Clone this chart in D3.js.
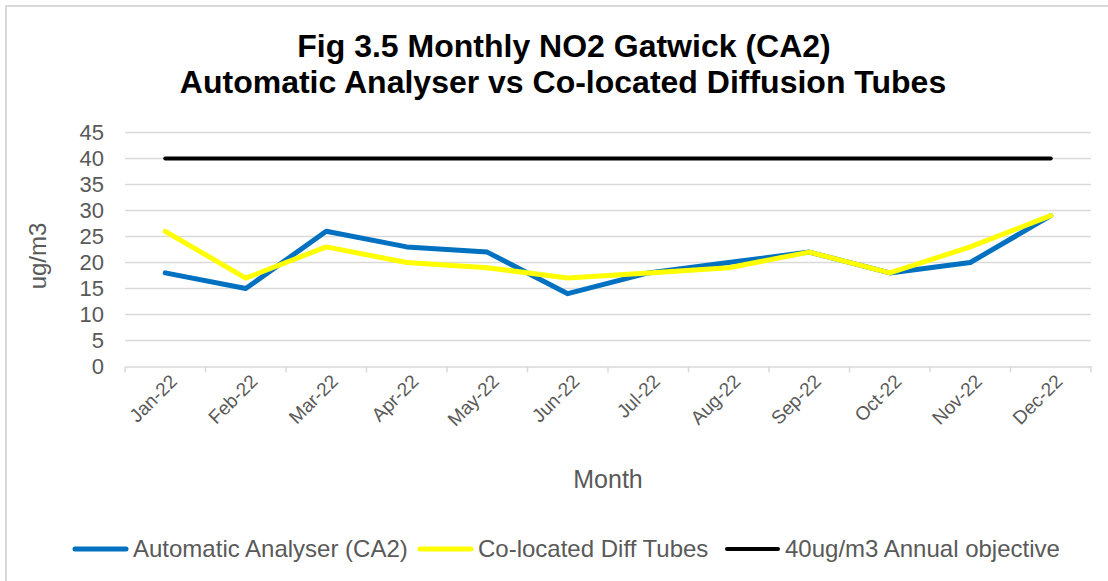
<!DOCTYPE html>
<html>
<head>
<meta charset="utf-8">
<script src="https://cdn.jsdelivr.net/npm/d3@7"></script>
<style>
  html, body { margin: 0; padding: 0; background: #fff; }
  svg { display: block; font-family: "Liberation Sans", Arial, sans-serif; }
</style>
</head>
<body>
<svg id="chart" width="1108" height="581"></svg>
<script>
const months = ["Jan-22","Feb-22","Mar-22","Apr-22","May-22","Jun-22","Jul-22","Aug-22","Sep-22","Oct-22","Nov-22","Dec-22"];
const analyser = [18, 15, 26, 23, 22, 14, 18, 20, 22, 18, 20, 29];
const diffTubes = [26, 17, 23, 20, 19, 17, 18, 19, 22, 18, 23, 29];
const objective = [40, 40, 40, 40, 40, 40, 40, 40, 40, 40, 40, 40];
const yTicks = [0, 5, 10, 15, 20, 25, 30, 35, 40, 45];
const seriesNames = ["Automatic Analyser (CA2)", "Co-located Diff Tubes", "40ug/m3 Annual objective"];
const seriesColors = ["#0070C0", "#FFFF00", "#000000"];

const svg = d3.select("#chart");
const textColor = "#595959";
const gridColor = "#D9D9D9";

// outer border
svg.append("rect").attr("x", 6).attr("y", 6).attr("width", 1120).attr("height", 600)
  .attr("fill", "none").attr("stroke", gridColor).attr("stroke-width", 2);

const pLeft = 125, pRight = 1091, pTop = 132.5, pBottom = 366.5;
const x = d3.scaleBand().domain(months).range([pLeft, pRight]);
const y = d3.scaleLinear().domain([0, 45]).range([pBottom, pTop]);

// title
const title = svg.append("text").attr("text-anchor", "middle")
  .attr("font-weight", "bold").attr("font-size", 32).attr("fill", "#000");
title.append("tspan").attr("x", 564).attr("y", 57).text("Fig 3.5 Monthly NO2 Gatwick (CA2)");
title.append("tspan").attr("x", 563).attr("y", 93).text("Automatic Analyser vs Co-located Diffusion Tubes");

// gridlines
svg.append("g").selectAll("line").data(yTicks.filter(d => d > 0)).join("line")
  .attr("x1", pLeft).attr("x2", pRight)
  .attr("y1", d => y(d)).attr("y2", d => y(d))
  .attr("stroke", gridColor).attr("stroke-width", 1.5);

// y axis labels
const yAxis = d3.axisLeft(y).tickValues(yTicks).tickSize(0).tickPadding(21);
const gy = svg.append("g").attr("transform", `translate(${pLeft},0)`).call(yAxis);
gy.select(".domain").remove();
gy.selectAll("text").attr("font-size", 22).attr("fill", textColor)
  .attr("font-family", "Liberation Sans, Arial, sans-serif");

// x axis
const xAxis = d3.axisBottom(x).tickSize(0);
const gx = svg.append("g").attr("transform", `translate(0,${pBottom})`).call(xAxis);
gx.select(".domain").attr("stroke", gridColor).attr("stroke-width", 1.5);
gx.selectAll("text")
  .attr("font-size", 19).attr("fill", textColor)
  .attr("font-family", "Liberation Sans, Arial, sans-serif")
  .attr("text-anchor", "end")
  .attr("dy", null).attr("y", 0)
  .attr("transform", "translate(13,16) rotate(-45)");
// tick marks at band boundaries
const bounds = months.map(m => x(m)).concat([pRight]);
svg.append("g").selectAll("line").data(bounds).join("line")
  .attr("x1", d => d).attr("x2", d => d)
  .attr("y1", pBottom).attr("y2", pBottom + 6)
  .attr("stroke", gridColor).attr("stroke-width", 1.5);

// axis titles
svg.append("text").attr("x", 608).attr("y", 488).attr("text-anchor", "middle")
  .attr("font-size", 25).attr("fill", textColor).text("Month");
svg.append("text").attr("transform", `translate(46,256) rotate(-90)`)
  .attr("text-anchor", "middle").attr("font-size", 24).attr("fill", textColor).text("ug/m3");

// lines
const line = d3.line().x((d, i) => x(months[i]) + x.bandwidth() / 2).y(d => y(d));
const datasets = [analyser, diffTubes, objective];
const widths = [5, 5, 4];
[2, 0, 1].forEach(k => {
  svg.append("path").datum(datasets[k]).attr("d", line)
    .attr("fill", "none").attr("stroke", seriesColors[k])
    .attr("stroke-width", widths[k]).attr("stroke-linejoin", "round").attr("stroke-linecap", "round");
});

// legend
const legendX = [73, 418, 725];
const lg = svg.append("g");
seriesNames.forEach((name, i) => {
  lg.append("line").attr("x1", legendX[i] + 2).attr("x2", legendX[i] + 53)
    .attr("y1", 549).attr("y2", 549)
    .attr("stroke", seriesColors[i]).attr("stroke-width", widths[i]).attr("stroke-linecap", "round");
  lg.append("text").attr("x", legendX[i] + 60).attr("y", 557)
    .attr("font-size", 24).attr("fill", textColor).text(name);
});
</script>
</body>
</html>
